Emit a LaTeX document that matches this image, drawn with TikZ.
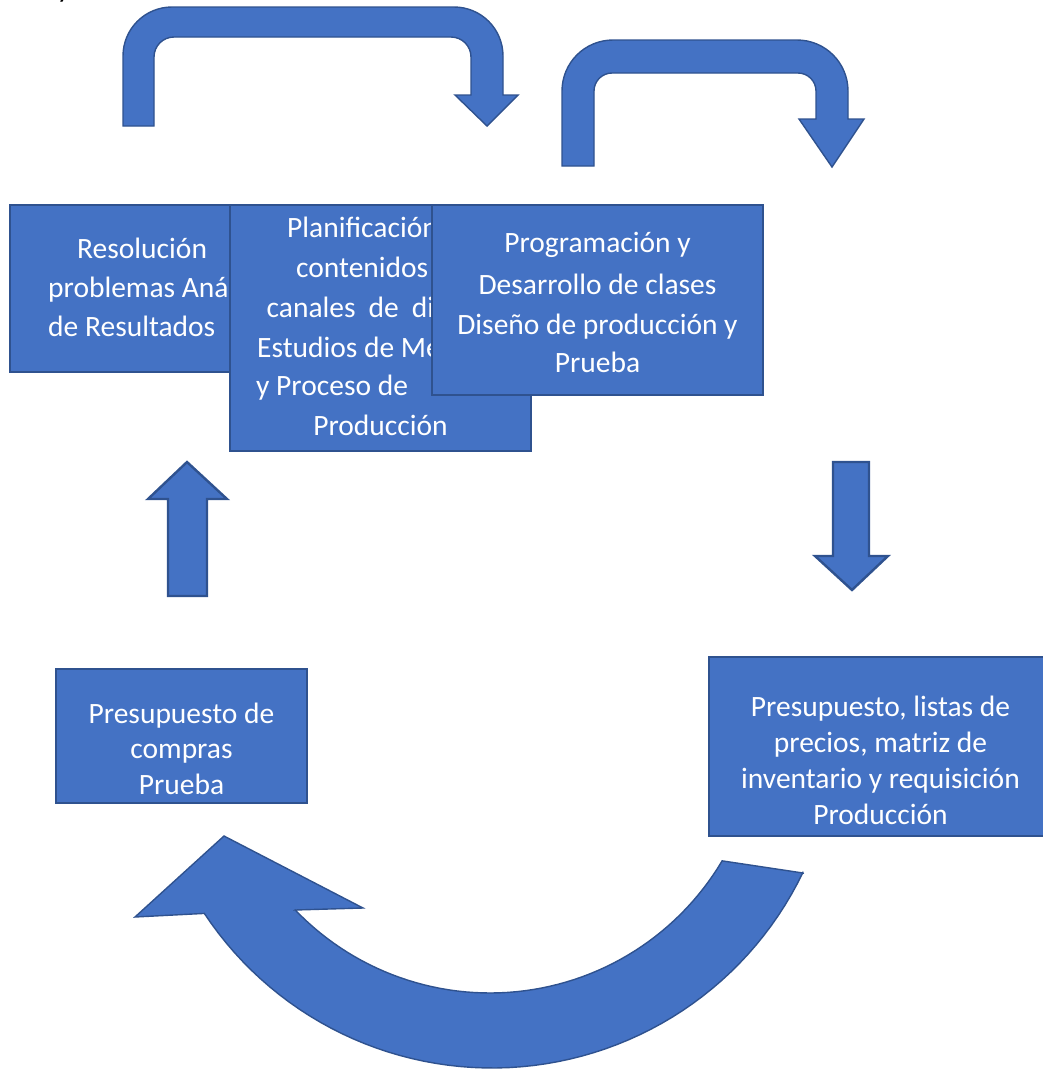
\documentclass[tikz,border=0pt]{standalone}
\usepackage{fontspec}
\setmainfont{Carlito}
\definecolor{fillblue}{HTML}{4472C4}
\definecolor{edgeblue}{HTML}{2F528F}
\tikzset{
  boxshape/.style={draw=edgeblue, fill=fillblue, line width=2.5pt, rectangle, inner sep=0pt, outer sep=0pt},
  arrowshape/.style={draw=edgeblue, fill=fillblue, line width=1.4pt, line join=miter},
  arrowthick/.style={arrowshape, line width=2.4pt},
  linetext/.style={text=white, font=\fontsize{29.5}{36}\selectfont, inner sep=0pt, anchor=base},
  linetextw/.style={linetext, anchor=base west},
}
\begin{document}
\begin{tikzpicture}[x=1pt,y=-1pt]
\useasboundingbox (0,0) rectangle (1043,1072);

% partial text at top-left
\node[anchor=base west, inner sep=0pt, font=\fontsize{29.5}{36}\selectfont] (ytop) at (57,-3) {y};

% Box 1
\node[boxshape, minimum width=255pt, minimum height=167pt] (b1) at (137.5,288.5) {};
\node[linetextw] (b1a) at (77,258) {Resolución};
\node[linetextw] (b1b) at (48,297) {problemas Aná};
\node[linetextw] (b1c) at (48,336) {de Resultados};

% Box 2
\node[boxshape, minimum width=301pt, minimum height=246pt] (b2) at (380.5,328) {};
\node[linetextw] (b2a) at (287,237) {Planificación};
\node[linetextw] (b2b) at (296,277) {contenidos};
\node[linetextw] (b2c) at (266.5,317) {canales\hspace{13pt}de\hspace{13pt}di};
\node[linetextw] (b2d) at (257,357) {Estudios de Me};
\node[linetextw] (b2e) at (256,395) {y Proceso de};
\node[linetext] (b2f) at (380.5,435) {Producción};

% Box 3
\node[boxshape, minimum width=331pt, minimum height=190pt] (b3) at (597.5,300) {};
\node[linetext] (b3a) at (597.5,252) {Programación y};
\node[linetext] (b3b) at (597.5,294) {Desarrollo de clases};
\node[linetext] (b3c) at (597.5,334) {Diseño de producción y};
\node[linetext] (b3d) at (597.5,372) {Prueba};

% Box 4
\node[boxshape, minimum width=251pt, minimum height=134pt] (b4) at (181.5,736) {};
\node[linetext] (b4a) at (181.5,723) {Presupuesto de};
\node[linetext] (b4b) at (181.5,758.5) {compras};
\node[linetext] (b4c) at (181.5,794) {Prueba};

% Box 5
\node[boxshape, minimum width=343pt, minimum height=179pt] (b5) at (880.5,746.5) {};
\node[linetext] (b5a) at (880.5,716) {Presupuesto, listas de};
\node[linetext] (b5b) at (880.5,752.5) {precios, matriz de};
\node[linetext] (b5c) at (880.5,788.5) {inventario y requisición};
\node[linetext] (b5d) at (880.5,824) {Producción};

% Bent arrow, top left
\draw[arrowshape] (123,126) -- (123,56) .. controls (123,28.9) and (144.9,7) .. (172,7)
  -- (454,7) .. controls (481.1,7) and (503,28.9) .. (503,56)
  -- (503,95) -- (518,95) -- (487,126) -- (455,95) -- (471,95)
  -- (471,57) .. controls (471,45.95) and (462.05,37) .. (451,37)
  -- (174,37) .. controls (162.95,37) and (154,45.95) .. (154,57)
  -- (154,126) -- cycle;

% Bent arrow, top right
\draw[arrowshape] (562,166) -- (562,91) .. controls (562,62.8) and (584.8,40) .. (613,40)
  -- (797,40) .. controls (825.2,40) and (848,62.8) .. (848,91)
  -- (848,119) -- (864,119) -- (832,167) -- (799,119) -- (816,119)
  -- (816,91) .. controls (816,81.1) and (807.9,73) .. (798,73)
  -- (612,73) .. controls (602.1,73) and (594,81.1) .. (594,91)
  -- (594,166) -- cycle;

% Up arrow
\draw[arrowthick] (168,596) -- (168,499) -- (148,499) -- (187,462) -- (227,499) -- (207,499) -- (207,596) -- cycle;

% Down arrow
\draw[arrowthick] (833,462) -- (869,462) -- (869,556) -- (888,556) -- (852,590) -- (815,556) -- (833,556) -- cycle;

% Curved arrow, bottom
\draw[arrowshape] (224,836) -- (363,908) -- (295,910)
  -- plot[domain=136.2:30.7, samples=60] ({490+270*cos(\x)},{723+270*sin(\x)})
  -- (803,873)
  -- plot[domain=25.7:146.5, samples=60] ({492+345*cos(\x)},{723+345*sin(\x)})
  -- (135,917) -- cycle;
\end{tikzpicture}
\end{document}
